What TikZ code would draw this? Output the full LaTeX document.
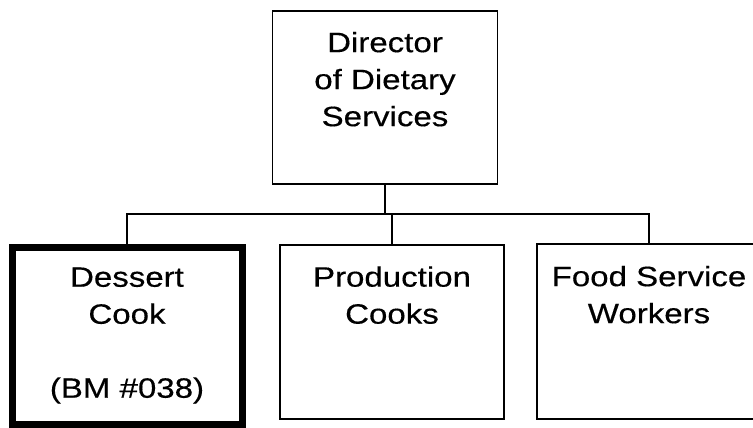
\documentclass[tikz,border=0pt]{standalone}
\usepackage{fontspec}
\newfontfamily\orgfont{Liberation Sans}[FakeStretch=1.18,FakeBold=0.4]
\tikzset{
  post/.style={draw,line width=1.6pt,align=center,inner sep=0pt,
    font=\orgfont\fontsize{28}{37}\selectfont,
    minimum width=224pt,minimum height=174pt},
  ownpost/.style={post,line width=7pt},
  wire/.style={line width=1.6pt}
}
\begin{document}
\begin{tikzpicture}[x=1pt,y=-1pt]
    \useasboundingbox (0,0) rectangle (753,428);
    \clip (0,0) rectangle (753,428);

    \node [post, minimum width=225pt, minimum height=173pt] (dir) at (385,97.5) {Director\\of Dietary\\Services\\~};

    \node [ownpost, minimum width=230pt, minimum height=177pt] (dessert) at (127,335.5) {Dessert\\Cook\\~\\(BM \#038)};
    \node [post] (prod) at (392,332) {Production\\Cooks\\~\\~};
    \node [post, minimum height=175pt] (food) at (649,331.5) {Food Service\\Workers\\~\\~};

    \coordinate (bus) at (385,214);
    \draw [wire] (dir.south) -- (bus);
    \draw [wire] (dessert.north) |- (bus) -| (food.north);
    \draw [wire] (bus -| prod.north) -- (prod.north);
  \end{tikzpicture}
\end{document}
